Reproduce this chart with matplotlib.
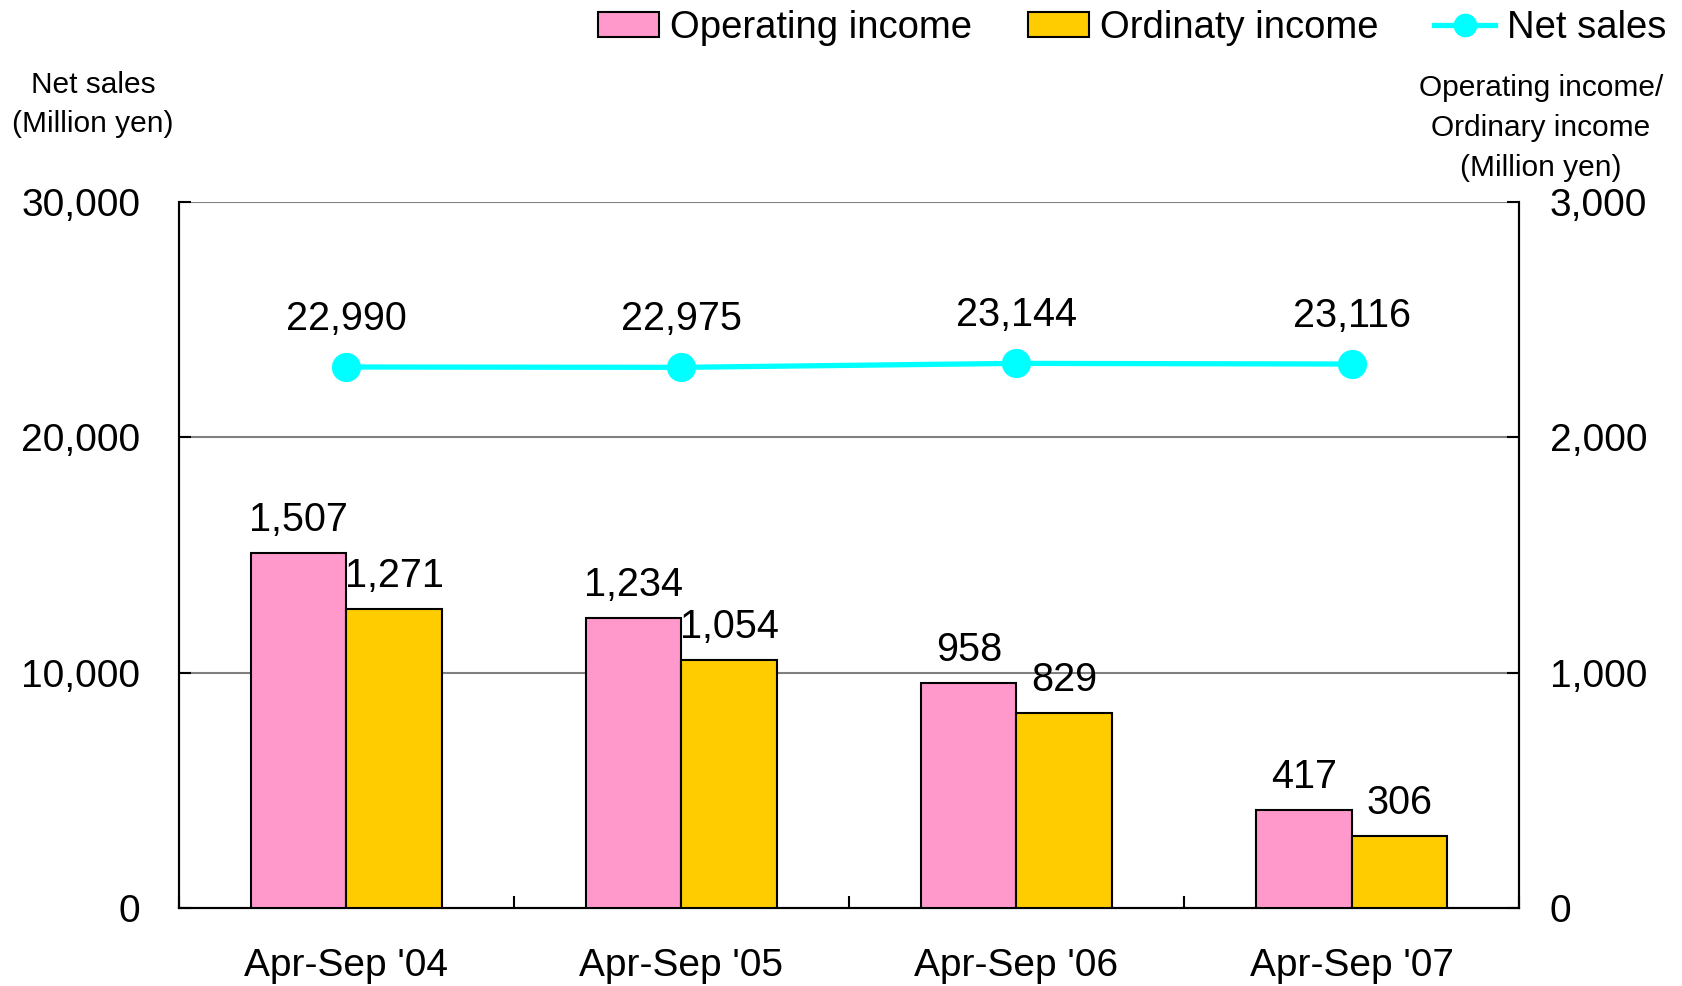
"""
Net sales vs operating / ordinary income, Apr-Sep half-years 2004-2007.
Bars (income) on the right axis, net sales line on the left axis.
"""
import numpy as np
import matplotlib
matplotlib.use("Agg")
import matplotlib.pyplot as plt
from matplotlib.lines import Line2D
from matplotlib.patches import Patch

plt.rcParams["font.family"] = ["Liberation Sans", "DejaVu Sans"]

# ------------------------------------------------------------------
# Data (Million yen)
# ------------------------------------------------------------------
PERIODS = ["Apr-Sep '04", "Apr-Sep '05", "Apr-Sep '06", "Apr-Sep '07"]
NET_SALES = [22990, 22975, 23144, 23116]
OPERATING = [1507, 1234, 958, 417]
ORDINARY = [1271, 1054, 829, 306]

PINK = "#FF99CC"
YELLOW = "#FFCC00"
CYAN = "#00FFFF"
GRID = "#808080"


def plot():
    fig = plt.figure(figsize=(16.82, 9.86), dpi=100)
    ax = fig.add_axes([0.1064, 0.0791, 0.7967, 0.716])
    ax2 = ax.twinx()

    x = np.arange(len(PERIODS))
    w = 0.285

    # bars on the right axis (income)
    ax2.bar(x - w / 2, OPERATING, width=w, color=PINK, edgecolor="black",
            linewidth=1.5, zorder=3)
    ax2.bar(x + w / 2, ORDINARY, width=w, color=YELLOW, edgecolor="black",
            linewidth=1.5, zorder=3)
    for xi, v in zip(x, OPERATING):
        ax2.annotate(f"{v:,}", (xi - w / 2, v), xytext=(0, 10),
                     textcoords="offset points", ha="center", va="bottom",
                     fontsize=28.5)
    for xi, v in zip(x, ORDINARY):
        ax2.annotate(f"{v:,}", (xi + w / 2, v), xytext=(0, 10),
                     textcoords="offset points", ha="center", va="bottom",
                     fontsize=28.5)
    ax2.set_ylim(0, 3000)
    ax2.set_yticks([0, 1000, 2000, 3000])
    ax2.set_yticklabels([f"{t:,}" for t in [0, 1000, 2000, 3000]])

    # gridlines on the left axis, kept behind the bars
    ax.set_zorder(ax2.get_zorder() - 1)
    ax.patch.set_visible(False)
    ax.set_ylim(0, 30000)
    ax.set_yticks([0, 10000, 20000, 30000])
    ax.set_yticklabels([f"{t:,}" for t in [0, 10000, 20000, 30000]])
    for t in [10000, 20000, 30000]:
        ax.axhline(t, color=GRID, lw=1.5, zorder=0)

    # net sales line drawn on ax2 (rescaled) so it sits above the bars
    scale = 3000 / 30000
    ax2.plot(x, np.array(NET_SALES) * scale, color=CYAN, lw=3.8,
             marker="o", markersize=20, zorder=5, clip_on=False)
    for xi, v in zip(x, NET_SALES):
        ax2.annotate(f"{v:,}", (xi, v * scale), xytext=(0, 21),
                     textcoords="offset points", ha="center", va="bottom",
                     fontsize=28.5)

    ax.set_xlim(-0.5, len(PERIODS) - 0.5)
    ax.set_xticks(x)
    ax.set_xticklabels(PERIODS)
    ax.set_xticks(np.arange(len(PERIODS) + 1) - 0.5, minor=True)
    ax.tick_params(axis="x", which="major", length=0, pad=29, labelsize=28)
    ax.tick_params(axis="x", which="minor", direction="in", length=8.6,
                   width=1.5)
    ax.tick_params(axis="y", direction="in", length=8.6, width=1.5,
                   pad=28, labelsize=28)
    ax2.tick_params(axis="y", direction="in", length=8.6, width=1.5,
                    pad=22, labelsize=28)

    for a in (ax, ax2):
        a.spines["top"].set_visible(False)
        for s in ("left", "right", "bottom"):
            a.spines[s].set_linewidth(1.5)

    # axis titles
    fig.text(0.0553, 0.894, "Net sales\n(Million yen)", ha="center",
             va="center", fontsize=21.5, linespacing=1.5)
    fig.text(0.9162, 0.8705, "Operating income/\nOrdinary income\n(Million yen)",
             ha="center", va="center", fontsize=21.5, linespacing=1.55)

    # legend along the top
    handles = [
        Patch(facecolor=PINK, edgecolor="black", linewidth=1.5),
        Patch(facecolor=YELLOW, edgecolor="black", linewidth=1.5),
        Line2D([], [], color=CYAN, lw=3.8, marker="o", markersize=16),
    ]
    fig.legend(handles, ["Operating income", "Ordinaty income", "Net sales"],
               loc="upper right", bbox_to_anchor=(1.011, 1.025), ncol=3,
               frameon=False, fontsize=27.5, handlelength=1.6,
               handleheight=0.65, handletextpad=0.3, columnspacing=1.45)

    fig.savefig("out.png", dpi=100)
    plt.close(fig)


if __name__ == "__main__":
    plot()
